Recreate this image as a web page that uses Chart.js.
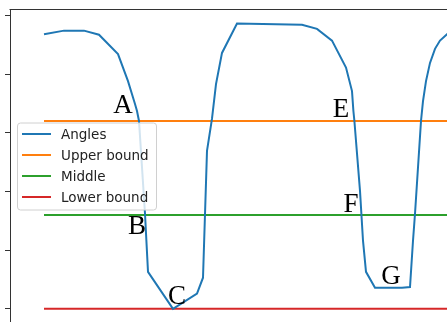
<!DOCTYPE html>
<html>
<head>
<meta charset="utf-8">
<script src="https://cdn.jsdelivr.net/npm/chart.js@4"></script>
<style>
  html, body { margin: 0; padding: 0; background: #fff; overflow: hidden; }
  #wrap { width: 447px; height: 322px; overflow: hidden; }
</style>
</head>
<body>
<div id="wrap"><canvas id="chart" width="470" height="344"></canvas></div>
<script>
// Valores
const timeValues = [0, 1, 2, 2.75, 3.7, 4.2, 4.55, 4.65, 4.75, 5.05, 5.2, 6.45, 7.65, 7.95, 8.15, 8.4, 8.6, 8.9, 9.65,
  12.9, 13.65, 14.4, 15.1, 15.4, 15.47, 15.52, 15.8, 15.95, 16.1, 16.55, 17.9, 18.3, 18.45, 18.55, 18.85, 18.95,
  19.1, 19.3, 19.55, 19.8, 20.15, 20.55];
const angleValues = [4.68, 4.74, 4.74, 4.67, 4.34, 3.88, 3.49, 3.37, 3.2, 1.62, 0.63, 0.0, 0.26, 0.53, 2.69, 3.24, 3.83, 4.36, 4.86,
  4.84, 4.77, 4.57, 4.11, 3.71, 3.37, 3.2, 2.01, 1.16, 0.63, 0.36, 0.36, 0.37, 1.16, 1.62, 3.2, 3.54,
  3.88, 4.19, 4.43, 4.57, 4.68, 4.8];
const upperBound = 3.2;
const middleValue = 1.6;
const lowerBound = 0;
const tickValues = [0, 1, 2, 3, 4, 5];

// Letras de anotación (posición en coordenadas de datos, línea base)
const markLetters = ['A', 'B', 'C', 'E', 'F', 'G'];
const markX = [3.95, 4.65, 6.65, 14.85, 15.35, 17.35];
const markY = [3.34, 1.28, 0.085, 3.27, 1.65, 0.43];

const xStart = timeValues[0];
const xEnd = timeValues[timeValues.length - 1];

const hline = (y) => [{ x: xStart, y }, { x: xEnd, y }];

/**
 * Marco superior, letras y leyenda al estilo matplotlib
 */
const decorPlugin = {
  id: 'decor',
  afterDatasetsDraw(chart) {
    const { ctx, chartArea, scales } = chart;
    ctx.save();

    // borde superior
    ctx.strokeStyle = '#333';
    ctx.lineWidth = 1;
    ctx.beginPath();
    ctx.moveTo(chartArea.left - 0.5, chartArea.top);
    ctx.lineTo(chartArea.right, chartArea.top);
    ctx.stroke();

    // letras
    ctx.fillStyle = '#000';
    ctx.font = '27px "Liberation Serif", serif';
    ctx.textAlign = 'center';
    ctx.textBaseline = 'alphabetic';
    markLetters.forEach((t, i) => {
      ctx.fillText(t, scales.x.getPixelForValue(markX[i]), scales.y.getPixelForValue(markY[i]));
    });

    // leyenda
    const lx = chartArea.left + 7.5;
    const ly = chartArea.top + 113.5;
    const w = 139, h = 87;
    ctx.beginPath();
    ctx.roundRect(lx, ly, w, h, 3);
    ctx.fillStyle = 'rgba(255,255,255,0.8)';
    ctx.fill();
    ctx.strokeStyle = '#d0d0d0';
    ctx.stroke();

    ctx.font = '13.5px "DejaVu Sans", sans-serif';
    ctx.textAlign = 'left';
    ctx.textBaseline = 'middle';
    chart.data.datasets.forEach((ds, i) => {
      const y = ly + 11 + i * 21;
      ctx.strokeStyle = ds.borderColor;
      ctx.lineWidth = 2;
      ctx.beginPath();
      ctx.moveTo(lx + 4.5, y);
      ctx.lineTo(lx + 33.5, y);
      ctx.stroke();
      ctx.fillStyle = '#222';
      ctx.fillText(ds.label, lx + 43.5, y + 1);
    });

    ctx.restore();
  }
};

const ctx = document.getElementById('chart').getContext('2d');
new Chart(ctx, {
  type: 'line',
  data: {
    datasets: [
      {
        label: 'Angles',
        data: timeValues.map((x, i) => ({ x, y: angleValues[i] })),
        borderColor: '#1f77b4',
        borderWidth: 2
      },
      { label: 'Upper bound', data: hline(upperBound), borderColor: '#ff7f0e', borderWidth: 2 },
      { label: 'Middle', data: hline(middleValue), borderColor: '#2ca02c', borderWidth: 2 },
      { label: 'Lower bound', data: hline(lowerBound), borderColor: '#d62728', borderWidth: 2 }
    ]
  },
  options: {
    responsive: false,
    animation: false,
    devicePixelRatio: 1,
    layout: { padding: { top: 9.5, left: 0, right: 0, bottom: 0 } },
    elements: {
      point: { radius: 0 },
      line: { tension: 0, fill: false, borderCapStyle: 'butt' }
    },
    plugins: {
      legend: { display: false },
      tooltip: { enabled: false }
    },
    scales: {
      x: {
        type: 'linear',
        min: -1.7,
        max: 21.3,
        display: false
      },
      y: {
        type: 'linear',
        min: -0.6,
        max: 5.1,
        afterBuildTicks: (scale) => { scale.ticks = tickValues.map(v => ({ value: v })); },
        afterFit: (scale) => { scale.width = 10; },
        ticks: { display: false },
        grid: { drawOnChartArea: false, drawTicks: true, tickLength: 5, tickColor: '#333', tickWidth: 1 },
        border: { display: true, color: '#333', width: 1 }
      }
    }
  },
  plugins: [decorPlugin]
});
</script>
</body>
</html>
